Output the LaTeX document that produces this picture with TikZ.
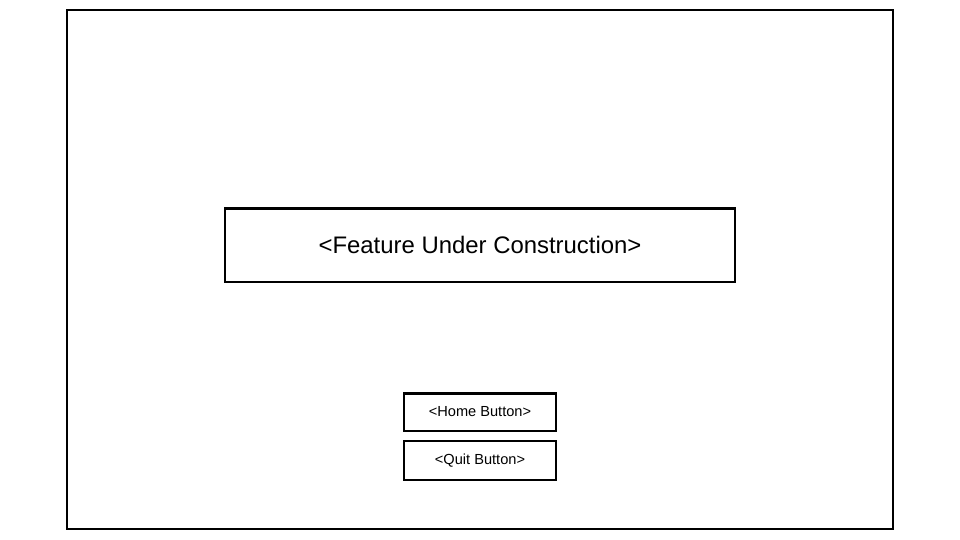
\documentclass[tikz,border=0pt]{standalone}
\usepackage{fontspec}
\setmainfont{Liberation Sans}
\usetikzlibrary{positioning}

\begin{document}
\begin{tikzpicture}[x=1pt,y=-1pt,
    frame/.style={draw,line width=2.5pt,inner sep=0pt},
    button/.style={frame,minimum width=152pt,font=\fontsize{14.6}{16}\selectfont}]
  \useasboundingbox (0,0) rectangle (960,540);
  \draw[line width=2.5pt] (67,10) rectangle (893,529);
    \node[frame,minimum width=510pt,minimum height=73.5pt,
      font=\fontsize{23.9}{26}\selectfont] (feature) at (480,245) {<Feature Under Construction>};
    \node[button,minimum height=37.5pt] (home) at (480,412) {<Home Button>};
    \node[button,minimum height=39pt] (quit) at (480,460.5) {<Quit Button>};
\end{tikzpicture}
\end{document}
